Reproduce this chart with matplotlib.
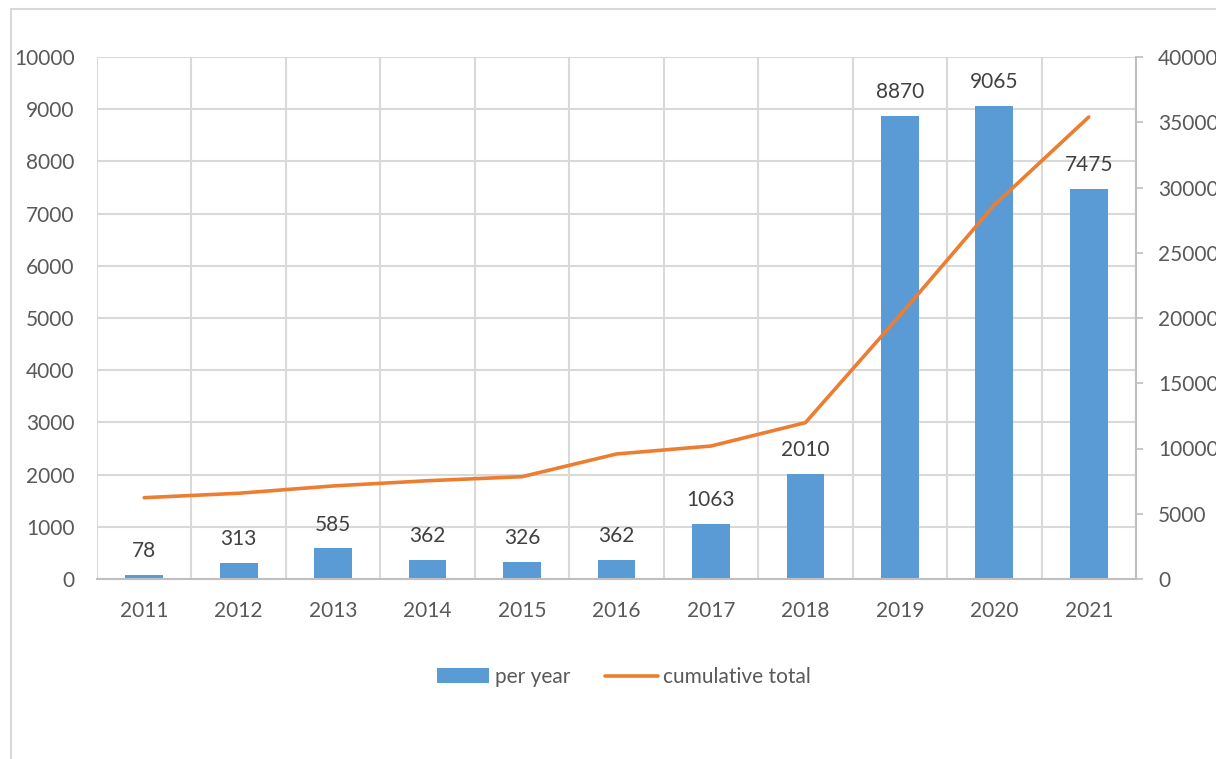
import matplotlib.pyplot as plt
from matplotlib.patches import Rectangle
from matplotlib.ticker import MultipleLocator

plt.rcParams['font.family'] = ['Lato', 'DejaVu Sans']

years = ["2011", "2012", "2013", "2014", "2015", "2016", "2017", "2018", "2019", "2020", "2021"]
per_year = [78, 313, 585, 362, 326, 362, 1063, 2010, 8870, 9065, 7475]
cumulative = [6230, 6570, 7130, 7530, 7840, 9580, 10190, 11980, 20200, 28660, 35400]

BAR = "#5B9BD5"
LINE = "#ED7D31"
GRID = "#D9D9D9"
AXIS = "#BFBFBF"
TXT = "#595959"
LBL = "#404040"
FS = 15

fig = plt.figure(figsize=(12.16, 7.59), dpi=100)
ax = fig.add_axes([97 / 1216, 1 - 579 / 759, (1136 - 97) / 1216, (579 - 57) / 759])

# outer chart frame (cropped on the right and bottom, like the source)
fig.patches.append(Rectangle((11 / 1216, -0.1), 1.2, 1 - 9 / 759 + 0.1,
                             transform=fig.transFigure, fill=False,
                             edgecolor=GRID, linewidth=1.5, zorder=0))

x = list(range(len(years)))
bars = ax.bar(x, per_year, width=0.4, color=BAR, zorder=3, label="per year")
for xi, v in zip(x, per_year):
    ax.annotate(str(v), (xi, v), xytext=(0, 17), textcoords="offset points",
                ha="center", va="center", fontsize=FS, color=LBL)

ax.set_xlim(-0.5, len(years) - 0.5)
ax.set_ylim(0, 10000)
ax.yaxis.set_major_locator(MultipleLocator(1000))
ax.set_xticks(x)
ax.set_xticklabels(years)
ax.set_xticks([i - 0.5 for i in range(len(years) + 1)], minor=True)
ax.grid(axis="y", color=GRID, linewidth=1.5, zorder=0)
ax.grid(axis="x", which="minor", color=GRID, linewidth=1.5, zorder=0)
ax.tick_params(axis="x", which="both", length=0, pad=16, labelsize=FS, labelcolor=TXT)
ax.tick_params(axis="y", length=0, pad=16, labelsize=FS, labelcolor=TXT)
for s in ["top", "right", "left"]:
    ax.spines[s].set_visible(False)
ax.spines["bottom"].set_color(AXIS)
ax.spines["bottom"].set_linewidth(1.5)
ax.spines["bottom"].set_zorder(4)

ax2 = ax.twinx()
line, = ax2.plot(x, cumulative, color=LINE, linewidth=2.6, zorder=5,
                 solid_capstyle="round", label="cumulative total")
ax2.set_ylim(0, 40000)
ax2.yaxis.set_major_locator(MultipleLocator(5000))
ax2.tick_params(axis="y", length=5, width=1.2, color=AXIS, pad=11,
                labelsize=FS, labelcolor=TXT)
for s in ["top", "left", "bottom"]:
    ax2.spines[s].set_visible(False)
ax2.spines["right"].set_color(AXIS)
ax2.spines["right"].set_linewidth(1.5)

fig.legend([bars, line], ["per year", "cumulative total"], loc="center",
           bbox_to_anchor=(624 / 1216, 1 - 677 / 759), ncol=2, frameon=False,
           fontsize=FS, labelcolor=TXT, handlelength=2.5, handletextpad=0.25,
           columnspacing=1.7)

fig.savefig("out.png", dpi=100)
